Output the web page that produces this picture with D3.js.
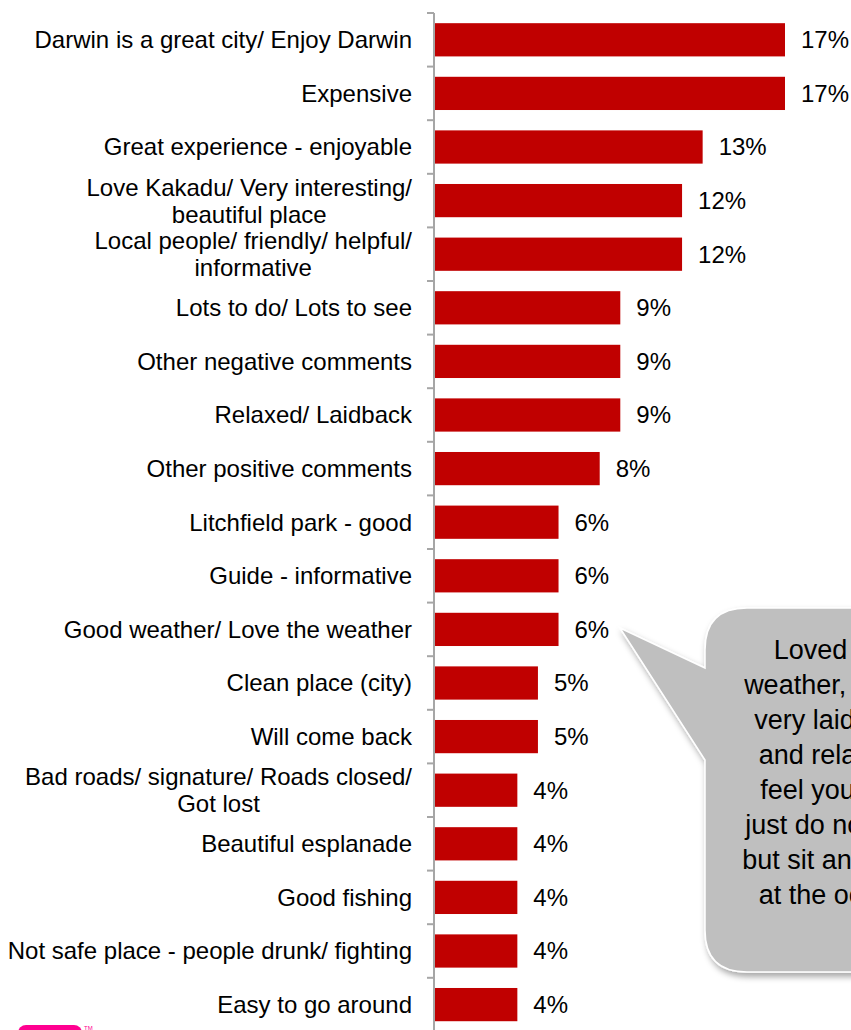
<!DOCTYPE html>
<html>
<head>
<meta charset="utf-8">
<script src="https://cdn.jsdelivr.net/npm/d3@7"></script>
<style>
  body { margin: 0; background: #fff; }
  text { font-family: Arial, 'Liberation Sans', sans-serif; fill: #000; }
</style>
</head>
<body>
<script>
const categories = [
  'Darwin is a great city/ Enjoy Darwin',
  'Expensive',
  'Great experience - enjoyable',
  'Love Kakadu/ Very interesting/|beautiful place',
  'Local people/ friendly/ helpful/|informative',
  'Lots to do/ Lots to see',
  'Other negative comments',
  'Relaxed/ Laidback',
  'Other positive comments',
  'Litchfield park - good',
  'Guide - informative',
  'Good weather/ Love the weather',
  'Clean place (city)',
  'Will come back',
  'Bad roads/ signature/ Roads closed/|Got lost',
  'Beautiful esplanade',
  'Good fishing',
  'Not safe place - people drunk/ fighting',
  'Easy to go around'
]
const values = [17, 17, 13, 12, 12, 9, 9, 9, 8, 6, 6, 6, 5, 5, 4, 4, 4, 4, 4]
const quoteLines = ['Loved the', 'weather, it\'s so', 'very laidback', 'and relaxed,',
  'feel you can', 'just do nothing', 'but sit and look', 'at the ocean']

const w = 851
const h = 1030
const axisX = 434

const svg = d3.select('body')
  .append('svg')
  .attr('width', w)
  .attr('height', h)

const yScale = d3.scaleBand()
  .domain(categories)
  .range([13, 13 + 53.6 * categories.length])
  .paddingInner(0.38)
  .paddingOuter(0.19)

const xScale = d3.scaleLinear()
  .domain([0, 17])
  .range([axisX + 1, 785])

// bars
svg.selectAll('rect.bar')
  .data(values)
  .enter()
  .append('rect')
  .attr('class', 'bar')
  .attr('x', xScale(0))
  .attr('y', (d, i) => yScale(categories[i]))
  .attr('width', d => xScale(d) - xScale(0))
  .attr('height', yScale.bandwidth())
  .attr('fill', '#C00000')

// value labels
svg.selectAll('text.val')
  .data(values)
  .enter()
  .append('text')
  .attr('class', 'val')
  .attr('x', d => xScale(d) + 16)
  .attr('y', (d, i) => yScale(categories[i]) + yScale.bandwidth() / 2)
  .attr('dy', '0.35em')
  .style('font-size', '24px')
  .text(d => d + '%')

// category labels, '|' splits into two lines
const labels = svg.selectAll('text.cat')
  .data(categories)
  .enter()
  .append('text')
  .attr('class', 'cat')
  .attr('text-anchor', 'end')
  .style('font-size', '24px')

labels.each(function (d) {
  const lines = d.split('|')
  const cy = yScale(d) + yScale.bandwidth() / 2
  const el = d3.select(this)
  lines.forEach((line, k) => {
    const off = (k - (lines.length - 1) / 2) * 27
    el.append('tspan')
      .attr('x', 412)
      .attr('y', cy + off)
      .attr('dy', '0.35em')
      .text(line)
  })
})

// centre the second line of wrapped labels under the first
labels.each(function (d) {
  const spans = d3.select(this).selectAll('tspan').nodes()
  if (spans.length < 2) return
  const first = spans[0].getComputedTextLength()
  const mid = 412 - first / 2
  spans.slice(1).forEach(s => {
    const len = s.getComputedTextLength()
    d3.select(s).attr('x', mid + len / 2)
  })
})

// axis line with ticks at band boundaries
const step = yScale.step()
const bounds = d3.range(categories.length + 1).map(i => 13 + i * step)

svg.append('line')
  .attr('x1', axisX).attr('x2', axisX)
  .attr('y1', 13).attr('y2', h)
  .attr('stroke', '#A6A6A6')
  .attr('stroke-width', 2)

svg.selectAll('line.tick')
  .data(bounds)
  .enter()
  .append('line')
  .attr('class', 'tick')
  .attr('x1', axisX - 7).attr('x2', axisX)
  .attr('y1', d => d).attr('y2', d => d)
  .attr('stroke', '#A6A6A6')
  .attr('stroke-width', 2)

// speech bubble
const defs = svg.append('defs')
const f = defs.append('filter').attr('id', 'shadow')
  .attr('x', '-20%').attr('y', '-20%').attr('width', '140%').attr('height', '140%')
f.append('feDropShadow')
  .attr('dx', 2).attr('dy', 4).attr('stdDeviation', 3)
  .attr('flood-color', '#000').attr('flood-opacity', 0.35)

const bx = 705, by = 608, bw = 250, bh = 364, r = 42
const bubble = [
  `M${bx + r},${by}`,
  `L${bx + bw - r},${by}`,
  `Q${bx + bw},${by} ${bx + bw},${by + r}`,
  `L${bx + bw},${by + bh - r}`,
  `Q${bx + bw},${by + bh} ${bx + bw - r},${by + bh}`,
  `L${bx + r},${by + bh}`,
  `Q${bx},${by + bh} ${bx},${by + bh - r}`,
  `L${bx},760`,
  `L620,628`,
  `L${bx},668`,
  `L${bx},${by + r}`,
  `Q${bx},${by} ${bx + r},${by}`,
  'Z'
].join(' ')

svg.append('path')
  .attr('d', bubble)
  .attr('fill', '#BFBFBF')
  .attr('stroke', '#fff')
  .attr('stroke-width', 1.5)
  .attr('filter', 'url(#shadow)')

svg.append('text')
  .attr('text-anchor', 'middle')
  .style('font-size', '27px')
  .selectAll('tspan')
  .data(quoteLines)
  .enter()
  .append('tspan')
  .attr('x', 833)
  .attr('y', (d, i) => 650 + i * 35)
  .attr('dy', '0.35em')
  .text(d => d)

// logo peeking in at the bottom
svg.append('rect')
  .attr('x', 18).attr('y', 1025)
  .attr('width', 64).attr('height', 20)
  .attr('rx', 8)
  .attr('fill', '#FF0090')

svg.append('text')
  .attr('x', 84).attr('y', 1030)
  .style('font-size', '6px')
  .style('fill', '#FF0090')
  .text('TM')
</script>
</body>
</html>
